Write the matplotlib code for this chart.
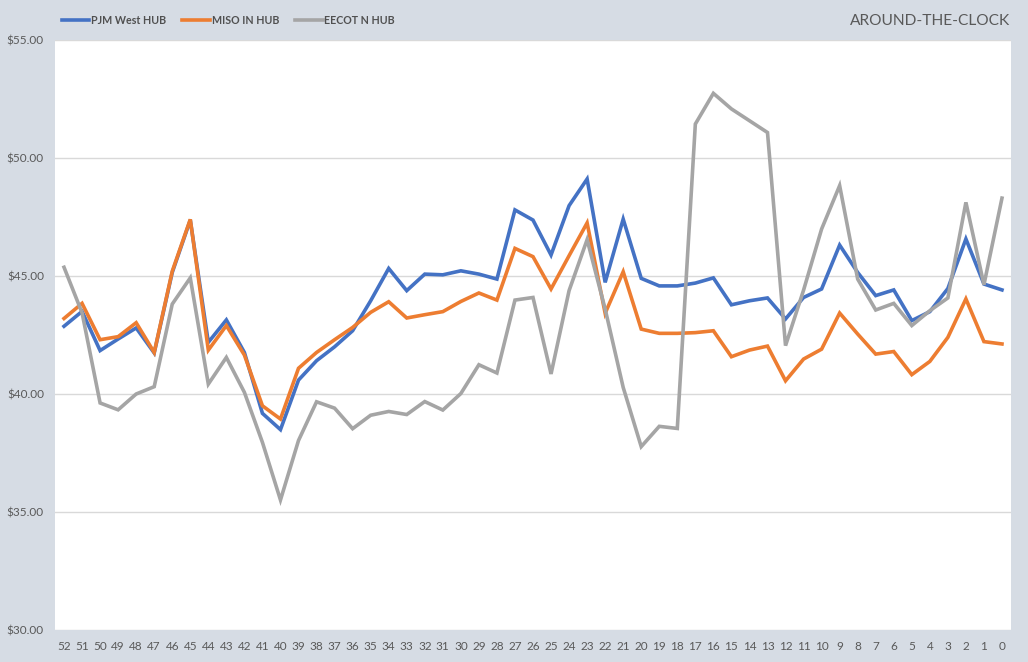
import matplotlib
matplotlib.use("Agg")
import matplotlib.pyplot as plt
from matplotlib.ticker import FuncFormatter

weeks = [str(w) for w in range(52, -1, -1)]

pjm_west = [42.87, 43.50, 41.84, 42.33, 42.80, 41.74, 45.15, 47.37, 42.19, 43.14,
            41.76, 39.18, 38.49, 40.59, 41.41, 42.00, 42.68, 43.95, 45.32, 44.38,
            45.08, 45.05, 45.22, 45.08, 44.87, 47.80, 47.37, 45.89, 47.98, 49.11,
            44.73, 47.41, 44.90, 44.58, 44.58, 44.70, 44.92, 43.78, 43.95, 44.07,
            43.18, 44.09, 44.45, 46.31, 45.15, 44.17, 44.41, 43.11, 43.49, 44.47,
            46.57, 44.66, 44.41]

miso_in = [43.20, 43.84, 42.30, 42.43, 43.02, 41.76, 45.20, 47.40, 41.86, 42.90,
           41.65, 39.50, 38.94, 41.09, 41.76, 42.30, 42.82, 43.46, 43.91, 43.22,
           43.36, 43.49, 43.92, 44.28, 43.98, 46.17, 45.82, 44.45, 45.86, 47.25,
           43.42, 45.18, 42.75, 42.57, 42.57, 42.60, 42.68, 41.58, 41.86, 42.03,
           40.56, 41.48, 41.90, 43.43, 42.54, 41.69, 41.80, 40.82, 41.38, 42.40,
           44.03, 42.22, 42.12]

eecot_n = [45.37, 43.44, 39.62, 39.33, 40.00, 40.31, 43.81, 44.92, 40.42, 41.55,
           40.07, 37.95, 35.51, 38.03, 39.67, 39.40, 38.53, 39.10, 39.26, 39.13,
           39.68, 39.32, 40.02, 41.24, 40.89, 43.98, 44.09, 40.85, 44.38, 46.54,
           43.60, 40.28, 37.77, 38.63, 38.54, 51.44, 52.74, 52.08, 51.58, 51.08,
           42.05, 44.40, 46.99, 48.83, 44.87, 43.56, 43.84, 42.90, 43.53, 44.07,
           48.12, 44.63, 48.30]

series_names = ["PJM West HUB", "MISO IN HUB", "EECOT N HUB"]
colors = ["#4472C4", "#ED7D31", "#A5A5A5"]
yticks = [30, 35, 40, 45, 50, 55]

plt.rcParams['font.family'] = ['Lato', 'DejaVu Sans']

fig = plt.figure(figsize=(10.28, 6.62), dpi=100, facecolor="#D6DCE4")
ax = fig.add_axes([55/1028, 1-630/662, (1011-55)/1028, (630-40)/662])
ax.set_facecolor("white")

x = list(range(len(weeks)))
lines = []
for vals, name, c in zip([pjm_west, miso_in, eecot_n], series_names, colors):
    ln, = ax.plot(x, vals, color=c, lw=2.6, label=name, solid_joinstyle="miter")
    lines.append(ln)

ax.set_xlim(-0.5, len(weeks) - 0.5)
ax.set_ylim(30, 55)
ax.set_yticks(yticks)
ax.yaxis.set_major_formatter(FuncFormatter(lambda v, p: f"${v:.2f}"))
ax.set_xticks(x)
ax.set_xticklabels(weeks)
ax.grid(axis="y", color="#D9D9D9", lw=1)
ax.set_axisbelow(True)
for s in ax.spines.values():
    s.set_visible(False)
ax.tick_params(axis="both", length=0, labelsize=8.5, colors="#595959")
ax.tick_params(axis="y", pad=8)
ax.tick_params(axis="x", pad=8)

leg = fig.legend(handles=lines, loc="center left", bbox_to_anchor=(52/1028, 1-20/662),
                 ncol=3, frameon=False, handlelength=2.6, handletextpad=0.15,
                 columnspacing=1.5, prop={"size": 7.7, "weight": "bold"})
for t in leg.get_texts():
    t.set_color("#505050")

fig.text(1010/1028, 1-21/662, "AROUND-THE-CLOCK", ha="right", va="center",
         fontsize=11.2, color="#595959")

fig.savefig("out.png", dpi=100, facecolor=fig.get_facecolor())
